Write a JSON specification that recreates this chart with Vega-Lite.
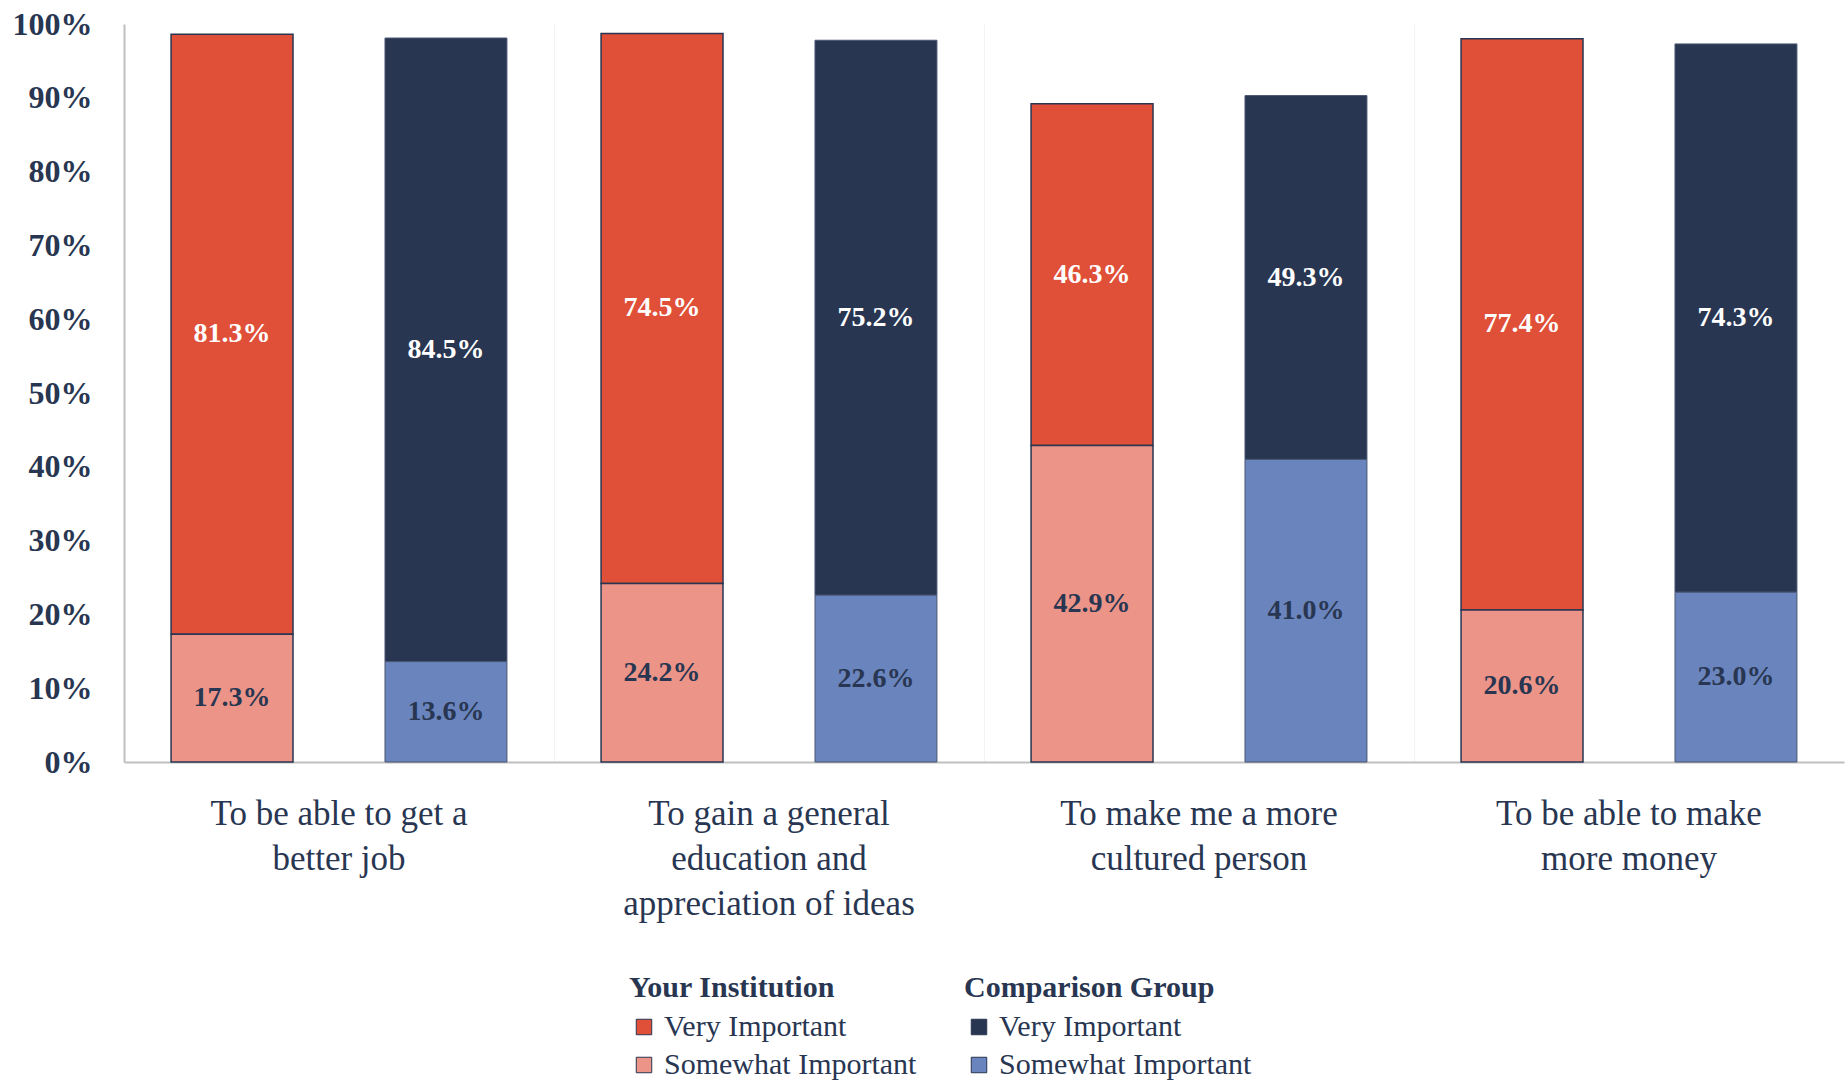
{
  "$schema": "https://vega.github.io/schema/vega-lite/v6.json",
  "width": 1720,
  "height": 738,
  "autosize": "none",
  "padding": {"left": 124, "top": 24, "right": 4, "bottom": 319},
  "background": "white",
  "config": {
    "view": {"stroke": null},
    "font": "Liberation Serif"
  },
  "data": {
    "values": [
      {"reason": "To be able to get a|better job", "group": "Your Institution", "level": "Very Important", "value": 0.813},
      {"reason": "To be able to get a|better job", "group": "Your Institution", "level": "Somewhat Important", "value": 0.173},
      {"reason": "To be able to get a|better job", "group": "Comparison Group", "level": "Very Important", "value": 0.845},
      {"reason": "To be able to get a|better job", "group": "Comparison Group", "level": "Somewhat Important", "value": 0.136},
      {"reason": "To gain a general|education and|appreciation of ideas", "group": "Your Institution", "level": "Very Important", "value": 0.745},
      {"reason": "To gain a general|education and|appreciation of ideas", "group": "Your Institution", "level": "Somewhat Important", "value": 0.242},
      {"reason": "To gain a general|education and|appreciation of ideas", "group": "Comparison Group", "level": "Very Important", "value": 0.752},
      {"reason": "To gain a general|education and|appreciation of ideas", "group": "Comparison Group", "level": "Somewhat Important", "value": 0.226},
      {"reason": "To make me a more|cultured person", "group": "Your Institution", "level": "Very Important", "value": 0.463},
      {"reason": "To make me a more|cultured person", "group": "Your Institution", "level": "Somewhat Important", "value": 0.429},
      {"reason": "To make me a more|cultured person", "group": "Comparison Group", "level": "Very Important", "value": 0.493},
      {"reason": "To make me a more|cultured person", "group": "Comparison Group", "level": "Somewhat Important", "value": 0.410},
      {"reason": "To be able to make|more money", "group": "Your Institution", "level": "Very Important", "value": 0.774},
      {"reason": "To be able to make|more money", "group": "Your Institution", "level": "Somewhat Important", "value": 0.206},
      {"reason": "To be able to make|more money", "group": "Comparison Group", "level": "Very Important", "value": 0.743},
      {"reason": "To be able to make|more money", "group": "Comparison Group", "level": "Somewhat Important", "value": 0.230}
    ]
  },
  "transform": [
    {"stack": "value", "groupby": ["reason", "group"], "sort": [{"field": "level", "order": "ascending"}], "as": ["y0", "y1"]},
    {"calculate": "(datum.y0 + datum.y1) / 2", "as": "ymid"}
  ],
  "encoding": {
    "x": {
      "field": "reason",
      "type": "nominal",
      "sort": ["To be able to get a|better job", "To gain a general|education and|appreciation of ideas", "To make me a more|cultured person", "To be able to make|more money"],
      "scale": {"paddingInner": 0, "paddingOuter": 0},
      "axis": {
        "title": null,
        "labelAngle": 0,
        "labelExpr": "split(datum.label, '|')",
        "labelFont": "Liberation Serif",
        "labelFontSize": 35,
        "labelLineHeight": 45,
        "labelColor": "#283652",
        "labelPadding": 34,
        "labelBaseline": "top",
        "labelLimit": 1000,
        "ticks": false,
        "domainColor": "#BFBFBF",
        "domainWidth": 2,
        "grid": true,
        "gridColor": "#F3F3F3",
        "gridWidth": 1,
        "bandPosition": 0
      }
    },
    "xOffset": {
      "field": "group",
      "type": "nominal",
      "sort": ["Your Institution", "Comparison Group"],
      "scale": {"paddingInner": 0.43, "paddingOuter": 0.22}
    }
  },
  "layer": [
    {
      "transform": [{"filter": "datum.group === 'Your Institution'"}],
      "mark": {"type": "bar", "stroke": "#283652", "strokeWidth": 1.5},
      "encoding": {
        "y": {
          "field": "y0",
          "type": "quantitative",
          "title": null,
          "scale": {"domain": [0, 1], "nice": false},
          "axis": {
            "title": null,
            "format": ".0%",
            "values": [0, 0.1, 0.2, 0.3, 0.4, 0.5, 0.6, 0.7, 0.8, 0.9, 1],
            "grid": false,
            "ticks": false,
            "labelFont": "Liberation Serif",
            "labelFontSize": 32,
            "labelFontWeight": "bold",
            "labelColor": "#283652",
            "labelPadding": 32,
            "domainColor": "#BFBFBF",
            "domainWidth": 2
          }
        },
        "y2": {"field": "y1"},
        "color": {
          "field": "level",
          "type": "nominal",
          "scale": {"domain": ["Very Important", "Somewhat Important"], "range": ["#E04F37", "#EC9488"]},
          "legend": {
            "title": "Your Institution",
            "orient": "none",
            "legendX": 505,
            "legendY": 949,
            "direction": "vertical",
            "padding": 0,
            "titleFont": "Liberation Serif",
            "titleFontSize": 30,
            "titleFontWeight": "bold",
            "titleColor": "#283652",
            "titlePadding": 9,
            "titleLimit": 1000,
            "labelFont": "Liberation Serif",
            "labelFontSize": 30,
            "labelColor": "#283652",
            "labelOffset": 5,
            "rowPadding": 8,
            "symbolType": "square",
            "symbolSize": 240,
            "symbolStrokeColor": "#283652",
            "symbolStrokeWidth": 1,
            "symbolOpacity": 1,
            "labelLimit": 1000
          }
        }
      }
    },
    {
      "transform": [{"filter": "datum.group === 'Comparison Group'"}],
      "mark": {"type": "bar", "stroke": "#4A5672", "strokeWidth": 1},
      "encoding": {
        "y": {"field": "y0", "type": "quantitative", "title": null, "scale": {"domain": [0, 1], "nice": false}},
        "y2": {"field": "y1"},
        "color": {
          "field": "level",
          "type": "nominal",
          "scale": {"domain": ["Very Important", "Somewhat Important"], "range": ["#283652", "#6A84BD"]},
          "legend": {
            "title": "Comparison Group",
            "orient": "none",
            "legendX": 840,
            "legendY": 949,
            "direction": "vertical",
            "padding": 0,
            "titleFont": "Liberation Serif",
            "titleFontSize": 30,
            "titleFontWeight": "bold",
            "titleColor": "#283652",
            "titlePadding": 9,
            "titleLimit": 1000,
            "labelFont": "Liberation Serif",
            "labelFontSize": 30,
            "labelColor": "#283652",
            "labelOffset": 5,
            "rowPadding": 8,
            "symbolType": "square",
            "symbolSize": 240,
            "symbolStrokeColor": "#283652",
            "symbolStrokeWidth": 1,
            "symbolOpacity": 1,
            "labelLimit": 1000
          }
        }
      }
    },
    {
      "mark": {"type": "text", "font": "Liberation Serif", "fontSize": 28, "fontWeight": "bold", "baseline": "middle", "align": "center"},
      "encoding": {
        "y": {"field": "ymid", "type": "quantitative", "title": null, "scale": {"domain": [0, 1], "nice": false}},
        "text": {"field": "value", "type": "quantitative", "format": ".1%"},
        "color": {
          "condition": {"test": "datum.level === 'Very Important'", "value": "#FFFFFF"},
          "value": "#283652"
        }
      }
    }
  ],
  "resolve": {"scale": {"color": "independent"}}
}
